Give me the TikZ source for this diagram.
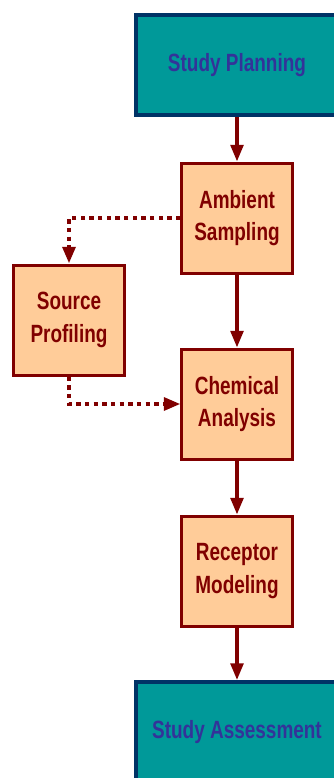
\documentclass[tikz,border=0pt]{standalone}
\usepackage{fontspec}
\setmainfont[FakeStretch=0.76]{Liberation Sans}
\usetikzlibrary{arrows.meta}
\definecolor{boxred}{HTML}{800000}
\definecolor{peach}{HTML}{FFCC99}
\definecolor{studyteal}{HTML}{009999}
\definecolor{navy}{HTML}{003366}
\definecolor{studytext}{HTML}{333399}
\begin{document}
\begin{tikzpicture}[x=0.03cm,y=-0.03cm,
  stage/.style={draw=boxred,fill=peach,line width=0.09cm,minimum width=3.3cm,
    minimum height=3.3cm,inner sep=0pt,align=center,text=boxred,
    font=\bfseries\fontsize{21.3}{28}\selectfont},
  study/.style={draw=navy,fill=studyteal,line width=0.12cm,minimum width=6.06cm,
    minimum height=3cm,inner sep=0pt,text=studytext,
    font=\bfseries\fontsize{21.3}{28}\selectfont},
  flow/.style={draw=boxred,line width=0.105cm,-{Triangle[length=0.5cm,width=0.38cm]}},
  feed/.style={flow,line width=0.12cm,dash pattern=on 0.13cm off 0.13cm}]
\useasboundingbox (0,0) rectangle (334,778);
\node[study] (plan) at (237,65) {Study Planning};
\node[stage] (ambient) at (237,218) {Ambient\\Sampling};
\node[stage] (source) at (69,320) {Source\\Profiling};
\node[stage] (chem) at (237,404) {Chemical\\Analysis};
\node[stage] (receptor) at (237,571) {Receptor\\Modeling};
\node[study] (assess) at (237,732) {Study Assessment};
\draw[flow] (plan) -- (ambient);
\draw[flow] (ambient) -- (chem);
\draw[flow] (chem) -- (receptor);
\draw[flow] (receptor) -- (assess);
\draw[feed] (ambient.west) -| (source.north);
\draw[feed] (source.south) |- (chem.west);
\end{tikzpicture}
\end{document}
